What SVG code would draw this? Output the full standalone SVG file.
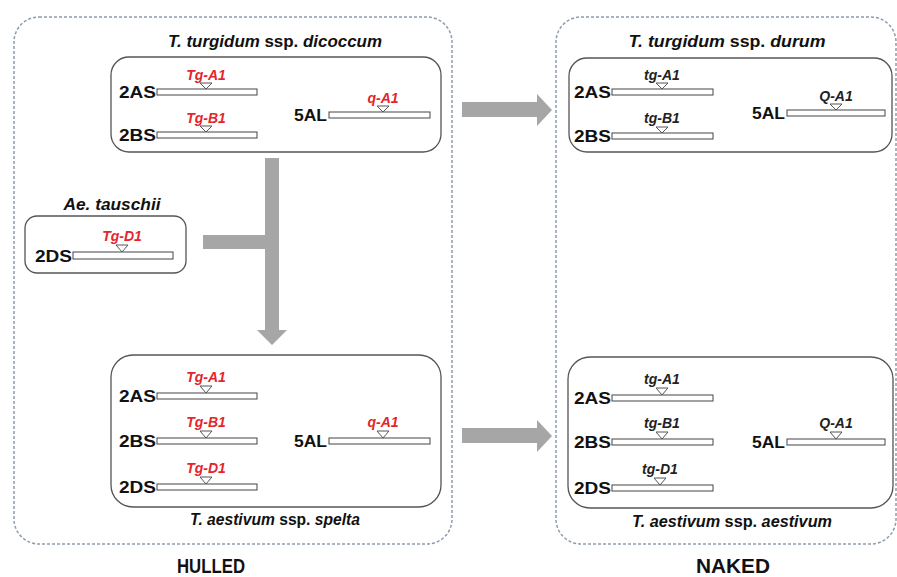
<svg xmlns="http://www.w3.org/2000/svg" width="897" height="577" viewBox="0 0 897 577">
<defs>
<style>
.cont{fill:none;stroke:#8e9cab;stroke-width:1.5;stroke-dasharray:3 2}
.box{fill:#fff;stroke:#555;stroke-width:1.3}
.bar{fill:#fff;stroke:#444;stroke-width:1}
.tri{fill:#fff;stroke:#555;stroke-width:1}
.chr{font-family:"Liberation Sans",Arial,sans-serif;font-weight:bold;font-size:16px;fill:#111;text-anchor:end}
.gr{font-family:"Liberation Sans",Arial,sans-serif;font-weight:bold;font-style:italic;font-size:14px;fill:#e3262b;text-anchor:middle}
.gb{font-family:"Liberation Sans",Arial,sans-serif;font-weight:bold;font-style:italic;font-size:14px;fill:#222;text-anchor:middle}
.ttl{font-family:"Liberation Sans",Arial,sans-serif;font-weight:bold;font-size:16px;fill:#111;text-anchor:middle}
.it{font-style:italic}
.big{font-family:"Liberation Sans",Arial,sans-serif;font-weight:bold;font-size:20px;fill:#111;text-anchor:middle}
.arr{fill:#a6a6a6}
</style>
</defs>
<g id="hulled-panel">
<rect class="cont" x="14" y="17" width="438" height="527" rx="25"/>
<text class="big" x="211" y="573" textLength="68" lengthAdjust="spacingAndGlyphs">HULLED</text>
</g>
<g id="naked-panel">
<rect class="cont" x="556" y="17" width="340" height="527" rx="25"/>
<text class="big" x="733" y="573" textLength="74" lengthAdjust="spacingAndGlyphs">NAKED</text>
</g>
<g id="connectors">
<path class="arr" d="M265,158 H279 V330 H287 L272,345 L257,330 H265 V249 H203 V235 H265 Z"/>
<path class="arr" d="M462,102 H537 V94 L552,110 L537,126 V117 H462 Z"/>
<path class="arr" d="M462,428 H537 V420 L552,436 L537,452 V443 H462 Z"/>
</g>
<g id="dicoccum">
<rect class="box" x="111" y="57" width="330" height="95" rx="18"/>
<text class="ttl" x="275" y="47" textLength="214" lengthAdjust="spacingAndGlyphs"><tspan class="it">T. turgidum</tspan> ssp. <tspan class="it">dicoccum</tspan></text>
<text class="chr" x="156" y="98" textLength="37" lengthAdjust="spacingAndGlyphs">2AS</text>
<rect class="bar" x="157" y="89" width="100" height="6"/>
<text class="gr" x="206" y="80">Tg-A1</text>
<polygon class="tri" points="200,83 212,83 206,89"/>
<text class="chr" x="156" y="141" textLength="37" lengthAdjust="spacingAndGlyphs">2BS</text>
<rect class="bar" x="157" y="132" width="100" height="6"/>
<text class="gr" x="206" y="123">Tg-B1</text>
<polygon class="tri" points="200,126 212,126 206,132"/>
<text class="chr" x="327" y="121" textLength="33" lengthAdjust="spacingAndGlyphs">5AL</text>
<rect class="bar" x="329" y="112" width="101" height="6"/>
<text class="gr" x="383" y="103">q-A1</text>
<polygon class="tri" points="377,106 389,106 383,112"/>
</g>
<g id="durum">
<rect class="box" x="569" y="58" width="323" height="94" rx="18"/>
<text class="ttl" x="727" y="47" textLength="197" lengthAdjust="spacingAndGlyphs"><tspan class="it">T. turgidum</tspan> ssp. <tspan class="it">durum</tspan></text>
<text class="chr" x="611" y="98" textLength="37" lengthAdjust="spacingAndGlyphs">2AS</text>
<rect class="bar" x="612" y="89" width="101" height="6"/>
<text class="gb" x="662" y="80">tg-A1</text>
<polygon class="tri" points="656,83 668,83 662,89"/>
<text class="chr" x="611" y="142" textLength="37" lengthAdjust="spacingAndGlyphs">2BS</text>
<rect class="bar" x="612" y="133" width="101" height="6"/>
<text class="gb" x="662" y="123">tg-B1</text>
<polygon class="tri" points="656,127 668,127 662,133"/>
<text class="chr" x="785" y="119" textLength="33" lengthAdjust="spacingAndGlyphs">5AL</text>
<rect class="bar" x="787" y="110" width="98" height="6"/>
<text class="gb" x="836" y="101">Q-A1</text>
<polygon class="tri" points="830,104 842,104 836,110"/>
</g>
<g id="tauschii">
<rect class="box" x="25" y="216" width="161" height="57" rx="12"/>
<text class="ttl it" x="112" y="210" textLength="97" lengthAdjust="spacingAndGlyphs">Ae. tauschii</text>
<text class="chr" x="72" y="262" textLength="37" lengthAdjust="spacingAndGlyphs">2DS</text>
<rect class="bar" x="73" y="252" width="100" height="7"/>
<text class="gr" x="122" y="241">Tg-D1</text>
<polygon class="tri" points="116,245 128,245 122,252"/>
</g>
<g id="spelta">
<rect class="box" x="111" y="355" width="330" height="152" rx="22"/>
<text class="ttl" x="275" y="525" textLength="170" lengthAdjust="spacingAndGlyphs"><tspan class="it">T. aestivum</tspan> ssp. <tspan class="it">spelta</tspan></text>
<text class="chr" x="156" y="402" textLength="37" lengthAdjust="spacingAndGlyphs">2AS</text>
<rect class="bar" x="157" y="393" width="100" height="6"/>
<text class="gr" x="206" y="382">Tg-A1</text>
<polygon class="tri" points="200,386 212,386 206,393"/>
<text class="chr" x="156" y="447" textLength="37" lengthAdjust="spacingAndGlyphs">2BS</text>
<rect class="bar" x="157" y="438" width="100" height="6"/>
<text class="gr" x="206" y="427">Tg-B1</text>
<polygon class="tri" points="200,431 212,431 206,438"/>
<text class="chr" x="156" y="493" textLength="37" lengthAdjust="spacingAndGlyphs">2DS</text>
<rect class="bar" x="157" y="484" width="100" height="6"/>
<text class="gr" x="206" y="473">Tg-D1</text>
<polygon class="tri" points="200,477 212,477 206,484"/>
<text class="chr" x="327" y="447" textLength="33" lengthAdjust="spacingAndGlyphs">5AL</text>
<rect class="bar" x="329" y="438" width="101" height="6"/>
<text class="gr" x="383" y="427">q-A1</text>
<polygon class="tri" points="377,431 389,431 383,438"/>
</g>
<g id="aestivum">
<rect class="box" x="568" y="357" width="325" height="151" rx="22"/>
<text class="ttl" x="732" y="527" textLength="200" lengthAdjust="spacingAndGlyphs"><tspan class="it">T. aestivum</tspan> ssp. <tspan class="it">aestivum</tspan></text>
<text class="chr" x="611" y="404" textLength="37" lengthAdjust="spacingAndGlyphs">2AS</text>
<rect class="bar" x="612" y="395" width="101" height="6"/>
<text class="gb" x="662" y="384">tg-A1</text>
<polygon class="tri" points="656,388 668,388 662,395"/>
<text class="chr" x="611" y="448" textLength="37" lengthAdjust="spacingAndGlyphs">2BS</text>
<rect class="bar" x="612" y="439" width="101" height="6"/>
<text class="gb" x="662" y="428">tg-B1</text>
<polygon class="tri" points="656,432 668,432 662,439"/>
<text class="chr" x="611" y="494" textLength="37" lengthAdjust="spacingAndGlyphs">2DS</text>
<rect class="bar" x="612" y="485" width="101" height="6"/>
<text class="gb" x="660" y="474">tg-D1</text>
<polygon class="tri" points="654,478 666,478 660,485"/>
<text class="chr" x="785" y="448" textLength="33" lengthAdjust="spacingAndGlyphs">5AL</text>
<rect class="bar" x="787" y="439" width="98" height="6"/>
<text class="gb" x="836" y="428">Q-A1</text>
<polygon class="tri" points="830,432 842,432 836,439"/>
</g>
</svg>
